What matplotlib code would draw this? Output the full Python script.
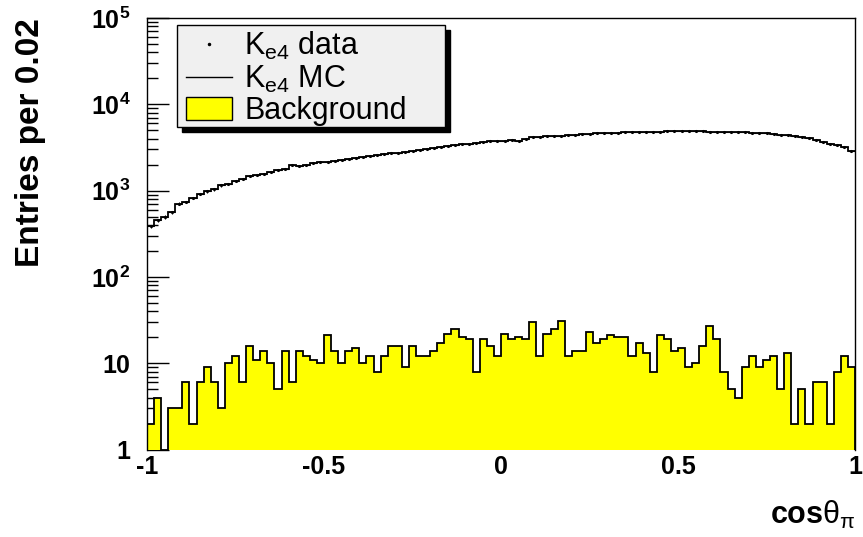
import numpy as np
import matplotlib
matplotlib.use("Agg")
import matplotlib.pyplot as plt
from matplotlib.patches import Rectangle
from matplotlib.lines import Line2D
from matplotlib.patches import Patch

plt.rcParams['font.family'] = ['Liberation Sans', 'DejaVu Sans']
plt.rcParams['mathtext.fontset'] = 'custom'
plt.rcParams['mathtext.rm'] = 'Liberation Sans'
plt.rcParams['mathtext.it'] = 'Liberation Sans:italic'
plt.rcParams['mathtext.bf'] = 'Liberation Sans:bold'

# ---- data ----
x_min, x_max, n_bins = -1.0, 1.0, 100

mc_counts = [385, 452, 494, 564, 704, 736, 819, 918, 977, 1032,
             1148, 1200, 1277, 1370, 1460, 1500, 1566, 1637, 1713, 1788,
             1958, 1920, 1988, 2080, 2135, 2170, 2230, 2290, 2350, 2400,
             2460, 2520, 2580, 2640, 2700, 2760, 2830, 2900, 2970, 3050,
             3125, 3200, 3280, 3350, 3430, 3510, 3580, 3650, 3710, 3765,
             3790, 3820, 3780, 4000, 4200, 4230, 4280, 4310, 4345, 4400,
             4450, 4500, 4560, 4620, 4650, 4680, 4700, 4730, 4745, 4760,
             4770, 4780, 4790, 4880, 4965, 4900, 4870, 4850, 4840, 4835,
             4830, 4810, 4790, 4770, 4745, 4700, 4650, 4600, 4540, 4460,
             4400, 4345, 4200, 4020, 3850, 3650, 3500, 3360, 3185, 2880]

data_counts = list(mc_counts)

bg_counts = [2, 4, 1, 3, 3, 6, 2, 6, 9, 6,
             3, 10, 12, 6, 16, 11, 14, 10, 5, 14,
             6, 14, 12, 11, 10, 21, 14, 10, 14, 15,
             10, 12, 8, 12, 16, 16, 9, 16, 12, 12,
             14, 17, 22, 25, 20, 19, 8, 19, 16, 12,
             22, 19, 20, 19, 30, 12, 22, 25, 31, 12,
             14, 14, 23, 17, 19, 21, 20, 20, 12, 17,
             13, 8, 21, 19, 14, 15, 9, 10, 16, 27,
             19, 8, 5, 4, 9, 12, 9, 11, 12, 5,
             13, 2, 5, 2, 6, 6, 2, 8, 12, 9]

x_ticks = [-1, -0.5, 0, 0.5, 1]
x_tick_labels = ['-1', '-0.5', '0', '0.5', '1']
y_ticks = [1, 10, 100, 1000, 10000, 100000]
y_tick_labels = ['1', '10', r'$\mathbf{10^{2}}$', r'$\mathbf{10^{3}}$',
                 r'$\mathbf{10^{4}}$', r'$\mathbf{10^{5}}$']

legend_labels = [r'K$_{\rm e4}$ data', r'K$_{\rm e4}$ MC', 'Background']

# ---- figure ----
W, H = 863, 537
fig = plt.figure(figsize=(W / 100, H / 100), dpi=100)
ax = fig.add_axes([147 / W, 1 - 449.5 / H, 708 / W, 431.5 / H])

edges = np.linspace(x_min, x_max, n_bins + 1)
centers = 0.5 * (edges[:-1] + edges[1:])

ax.stairs(bg_counts, edges, fill=True, color='#ffff00', baseline=1, zorder=3)
ax.stairs(bg_counts, edges, color='black', linewidth=1.3, baseline=1, zorder=4)
ax.stairs(mc_counts, edges, color='black', linewidth=1.3, baseline=None, zorder=4)
d = np.array(data_counts, dtype=float)
ax.errorbar(centers, d, xerr=0.01, yerr=np.sqrt(d), fmt='.', color='black',
            markersize=2.5, elinewidth=0.8, capsize=0, zorder=5)

ax.set_yscale('log')
ax.set_xlim(x_min, x_max)
ax.set_ylim(1, 1e5)

ax.spines['bottom'].set_visible(False)
ax.spines['left'].set_zorder(6)
for s in ('top', 'right', 'left'):
    ax.spines[s].set_linewidth(1.0)

ax.set_xticks(x_ticks)
ax.set_xticklabels(x_tick_labels, fontsize=18, fontweight='bold')
ax.tick_params(axis='x', length=0, pad=4)
ax.set_yticks(y_ticks)
ax.set_yticklabels(y_tick_labels, fontsize=18, fontweight='bold')
ax.tick_params(axis='y', which='major', direction='in', length=16, width=1.0, pad=12)
ax.tick_params(axis='y', which='minor', direction='in', length=8, width=1.0)
ax.yaxis.set_minor_locator(matplotlib.ticker.LogLocator(base=10, subs=np.arange(2, 10)))
ax.yaxis.set_minor_formatter(matplotlib.ticker.NullFormatter())

fig.text(31 / W, 1 - 18 / H, 'Entries per 0.02', fontsize=24, fontweight='bold',
         rotation=90, ha='center', va='top')
fig.text(856 / W, 1 - 515 / H, r'cos$\mathrm{\theta}_{\mathrm{\pi}}$', fontsize=22,
         fontweight='bold', ha='right', va='center')

# ---- legend ----
lx0, ly0, lx1, ly1 = 177, 25, 445, 127
sh = 5
fig.patches.append(Rectangle(((lx0 + sh) / W, 1 - (ly1 + sh) / H), (lx1 - lx0) / W,
                             (ly1 - ly0) / H, transform=fig.transFigure,
                             facecolor='black', edgecolor='black', zorder=10))
fig.patches.append(Rectangle((lx0 / W, 1 - ly1 / H), (lx1 - lx0) / W, (ly1 - ly0) / H,
                             transform=fig.transFigure, facecolor='#f0f0f0',
                             edgecolor='black', linewidth=1.0, zorder=11))
handles = [Line2D([], [], marker='.', linestyle='none', color='black', markersize=3),
           Line2D([], [], color='black', linewidth=1.0),
           Patch(facecolor='#ffff00', edgecolor='black', linewidth=1.0)]
leg = fig.legend(handles, legend_labels, loc='upper left',
                 bbox_to_anchor=(lx0 / W, 1 - (ly0 - 4) / H), frameon=False,
                 fontsize=22, handlelength=1.5, handleheight=0.8,
                 handletextpad=0.4, labelspacing=0.05, borderpad=0.3,
                 borderaxespad=0.0)
leg.set_zorder(12)

fig.savefig('out.png', dpi=100)
